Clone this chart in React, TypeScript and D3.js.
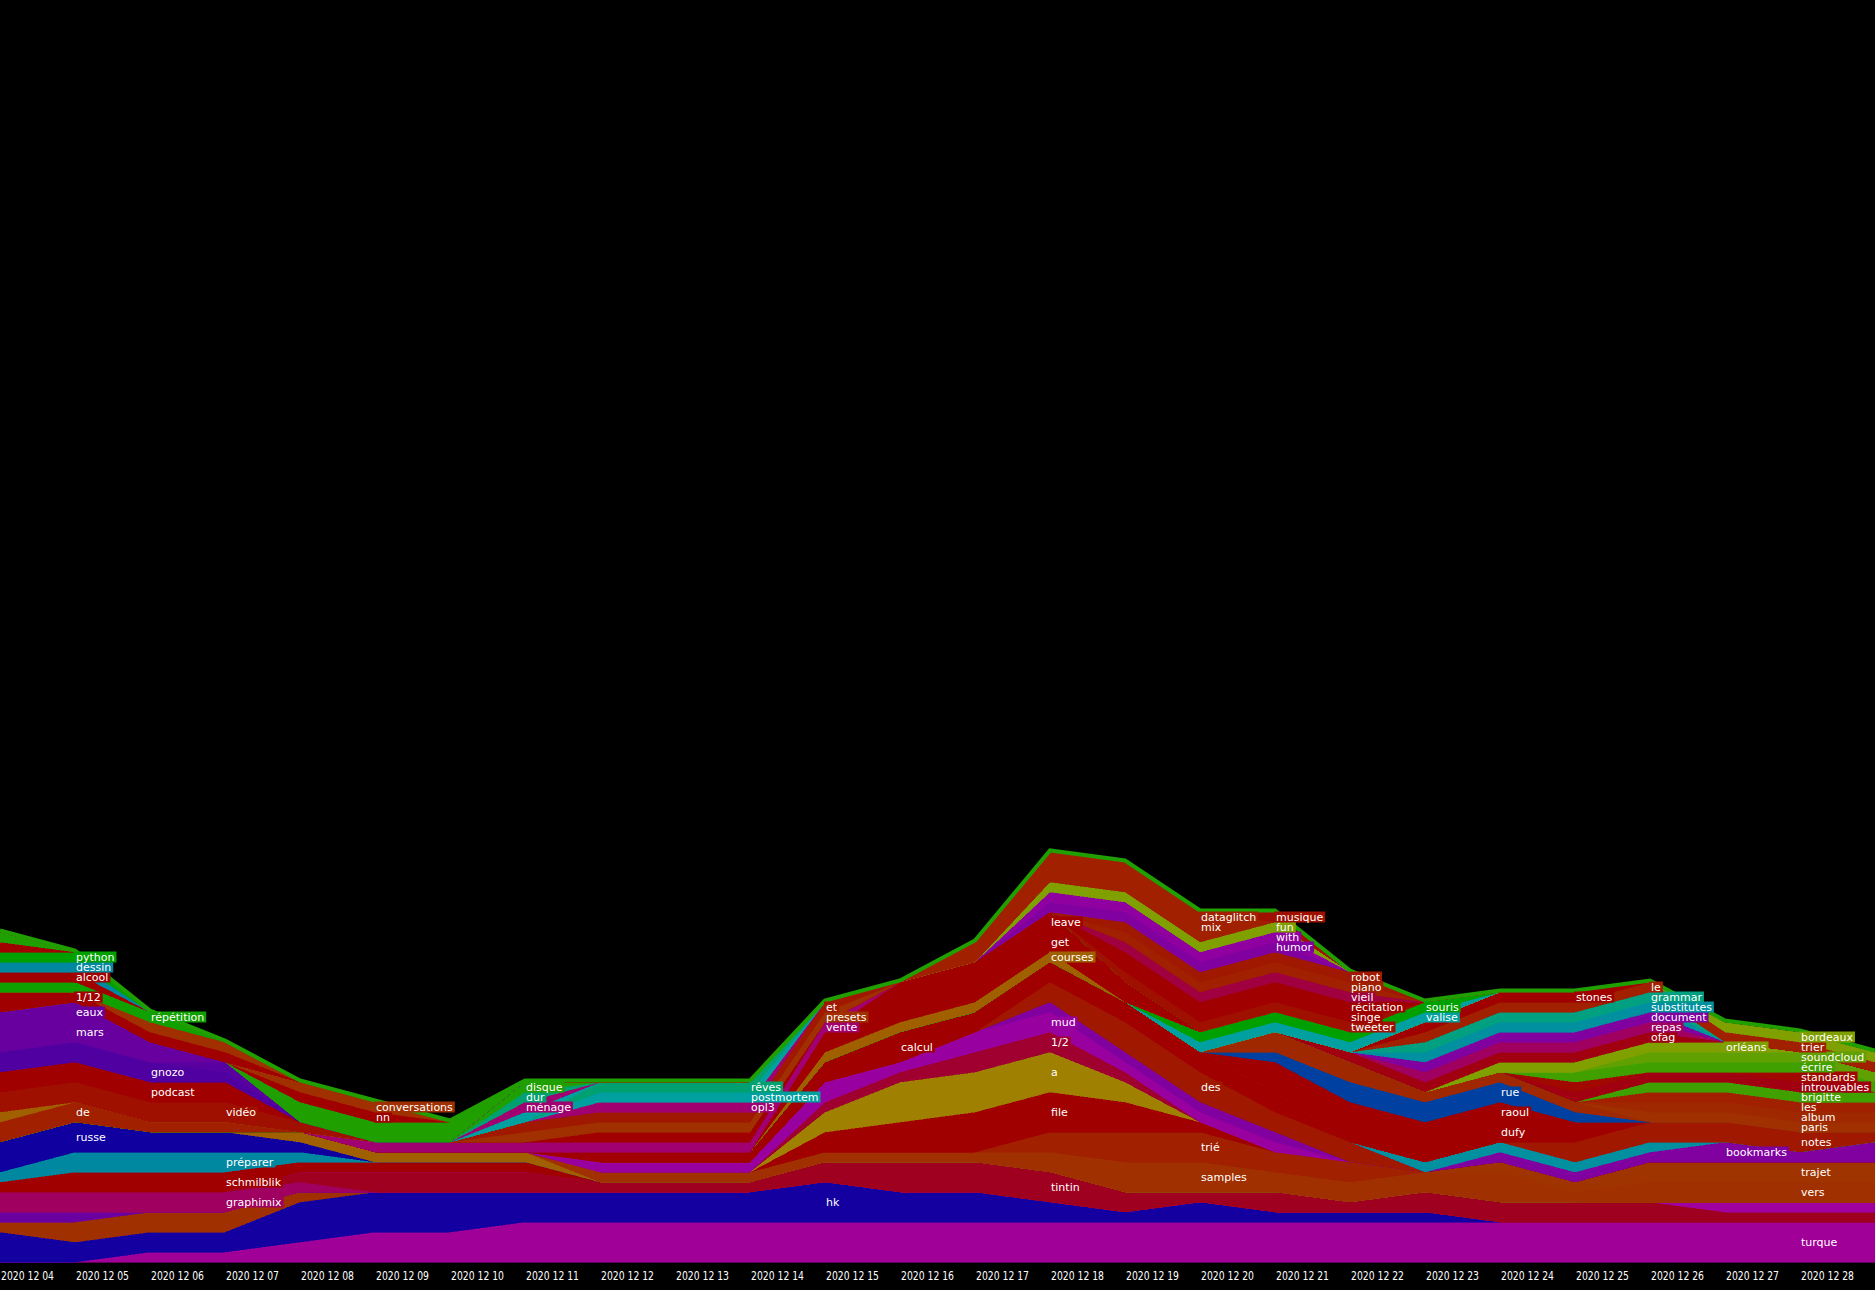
import React from "react";
import * as d3 from "d3";

const dates = [
  "2020 12 04", "2020 12 05", "2020 12 06", "2020 12 07", "2020 12 08", "2020 12 09",
  "2020 12 10", "2020 12 11", "2020 12 12", "2020 12 13", "2020 12 14", "2020 12 15",
  "2020 12 16", "2020 12 17", "2020 12 18", "2020 12 19", "2020 12 20", "2020 12 21",
  "2020 12 22", "2020 12 23", "2020 12 24", "2020 12 25", "2020 12 26", "2020 12 27",
  "2020 12 28", "2020 12 29",
];

// stack order, bottom to top ("" = word whose label is not shown)
const words = [
  "turque", "hk", "", "", "graphimix", "tintin", "", "schmilblik", "préparer", "russe",
  "", "samples", "vers", "trajet", "trié", "file", "a", "1/2", "mud", "",
  "des", "calcul", "bookmarks", "", "notes", "dufy", "raoul", "rue", "", "paris",
  "album", "les", "brigitte", "introuvables", "standards", "écrire", "soundcloud", "orléans", "ofag", "repas",
  "document", "substitutes", "grammar", "le", "stones", "trier", "bordeaux", "valise", "souris", "courses",
  "get", "leave", "vente", "", "presets", "et", "opl3", "postmortem", "rêves", "",
  "ménage", "dur", "disque", "de", "", "vidéo", "podcast", "", "gnozo", "",
  "mars", "eaux", "", "nn", "conversations", "", "1/12", "", "", "répétition",
  "alcool", "dessin", "python", "", "", "tweeter", "singe", "récitation", "vieil", "piano",
  "robot", "humor", "with", "fun", "", "mix", "dataglitch", "musique",
];

const wordColors = [
  "#a00098", "#1400a0", "#a03000", "#6a00a0", "#a00060", "#a00020", "#a000a0", "#a00000", "#0088a0", "#1000a0",
  "#a06000", "#a03000", "#a03000", "#a03400", "#a02000", "#a00000", "#a08000", "#a00030", "#9800a0", "#8000a0",
  "#a01800", "#a00000", "#8000a0", "#0090a0", "#a01800", "#a00000", "#a00000", "#0040a0", "#a02800", "#a03000",
  "#a02800", "#a02000", "#40a000", "#a00010", "#a00800", "#40a000", "#60a000", "#80a000", "#a00010", "#a00060",
  "#8000a0", "#0090a0", "#00a080", "#a02000", "#a00000", "#a02000", "#80a000", "#00a0a0", "#00a000", "#a06000",
  "#a00000", "#a00000", "#a00070", "#a00000", "#a03000", "#a01800", "#a00070", "#00a0a0", "#00a070", "#00a0a0",
  "#a00070", "#00a070", "#20a000", "#a02000", "#a06000", "#a01000", "#a00000", "#a00000", "#5000a0", "#5800a0",
  "#6800a0", "#6800a0", "#20a000", "#a00000", "#a03000", "#a00000", "#a00000", "#a00000", "#a03000", "#10a000",
  "#a00000", "#0088a0", "#00a000", "#a00000", "#20a000", "#a01000", "#a00000", "#a00000", "#a00040", "#a02000",
  "#a01800", "#8000a0", "#9000a0", "#80a000", "#a02000", "#a02000", "#a02000", "#a01000",
];

// daily counts per word (one column per date)
const counts: number[][] = [
  [0,0,1,1,2,3,3,4,4,4,4,4,4,4,4,4,4,4,4,4,4,4,4,4,4,4],
  [3,2,2,2,4,4,4,3,3,3,3,4,3,3,2,1,2,1,1,1,0,0,0,0,0,0],
  [1,2,2,2,1,0,0,0,0,0,0,0,0,0,0,0,0,0,0,0,0,0,0,0,0,0],
  [1,1,0,0,0,0,0,0,0,0,0,0,0,0,0,0,0,0,0,0,0,0,0,0,0,0],
  [2,2,2,2,1,0,0,0,0,0,0,0,0,0,0,0,0,0,0,0,0,0,0,0,0,0],
  [0,0,0,0,1,2,2,2,1,1,1,2,3,3,3,2,1,2,1,2,2,2,2,1,1,1],
  [0,0,0,0,0,0,0,0,0,0,0,0,0,0,0,0,0,0,0,0,0,0,0,1,1,1],
  [1,2,2,2,1,1,1,1,0,0,0,0,0,0,0,0,0,0,0,0,0,0,0,0,0,0],
  [1,2,2,2,1,0,0,0,0,0,0,0,0,0,0,0,0,0,0,0,0,0,0,0,0,0],
  [3,3,2,2,1,0,0,0,0,0,0,0,0,0,0,0,0,0,0,0,0,0,0,0,0,0],
  [0,0,0,0,1,1,1,1,0,0,0,0,0,0,0,0,0,0,0,0,0,0,0,0,0,0],
  [0,0,0,0,0,0,0,0,1,1,1,1,1,1,2,3,3,2,2,2,2,0,0,0,0,0],
  [0,0,0,0,0,0,0,0,0,0,0,0,0,0,0,0,0,0,0,0,1,1,2,2,2,2],
  [0,0,0,0,0,0,0,0,0,0,0,0,0,0,0,0,0,0,0,0,1,1,2,2,2,2],
  [0,0,0,0,0,0,0,0,0,0,0,0,0,0,2,3,3,2,2,0,0,0,0,0,0,0],
  [0,0,0,0,0,0,0,0,0,0,0,2,3,4,4,3,1,0,0,0,0,0,0,0,0,0],
  [0,0,0,0,0,0,0,0,0,0,0,2,4,4,4,2,0,0,0,0,0,0,0,0,0,0],
  [0,0,0,0,0,0,0,0,0,0,0,1,1,2,2,1,0,0,0,0,0,0,0,0,0,0],
  [0,0,0,0,0,0,0,0,1,1,1,2,1,2,2,1,1,1,0,0,0,0,0,0,0,0],
  [0,0,0,0,0,0,0,0,0,0,0,0,0,0,1,1,1,1,0,0,0,0,0,0,0,0],
  [0,0,0,0,0,0,0,0,0,0,0,0,0,0,2,3,3,2,2,0,0,0,0,0,0,0],
  [0,0,0,0,0,0,0,0,1,1,1,2,3,2,2,2,2,2,0,0,0,0,0,0,0,0],
  [0,0,0,0,0,0,0,0,0,0,0,0,0,0,0,0,0,0,0,0,1,1,1,2,1,2],
  [0,0,0,0,0,0,0,0,0,0,0,0,0,0,0,0,0,0,0,1,1,1,1,0,0,0],
  [0,0,0,0,0,0,0,0,0,0,0,0,0,0,0,0,0,0,0,0,0,2,2,2,2,1],
  [0,0,0,0,0,0,0,0,0,0,0,0,0,0,0,0,0,1,2,2,2,1,0,0,0,0],
  [0,0,0,0,0,0,0,0,0,0,0,0,0,0,0,0,0,2,2,2,2,1,0,0,0,0],
  [0,0,0,0,0,0,0,0,0,0,0,0,0,0,0,0,0,1,2,2,2,1,0,0,0,0],
  [0,0,0,0,0,0,0,0,0,0,0,0,0,0,0,0,0,2,2,1,1,1,0,0,0,0],
  [0,0,0,0,0,0,0,0,0,0,0,0,0,0,0,0,0,0,0,0,0,0,1,1,1,1],
  [0,0,0,0,0,0,0,0,0,0,0,0,0,0,0,0,0,0,0,0,0,0,1,1,1,1],
  [0,0,0,0,0,0,0,0,0,0,0,0,0,0,0,0,0,0,0,0,0,0,1,1,1,1],
  [0,0,0,0,0,0,0,0,0,0,0,0,0,0,0,0,0,0,0,0,0,0,1,1,1,1],
  [0,0,0,0,0,0,0,0,0,0,0,0,0,0,0,0,0,0,0,0,0,1,1,1,1,0],
  [0,0,0,0,0,0,0,0,0,0,0,0,0,0,0,0,0,0,0,0,0,1,0,0,1,0],
  [0,0,0,0,0,0,0,0,0,0,0,0,0,0,0,0,0,0,0,0,0,1,1,1,1,1],
  [0,0,0,0,0,0,0,0,0,0,0,0,0,0,0,0,0,0,0,0,0,0,1,1,1,1],
  [0,0,0,0,0,0,0,0,0,0,0,0,0,0,0,0,0,0,0,0,1,1,1,1,0,0],
  [0,0,0,0,0,0,0,0,0,0,0,0,0,0,0,0,0,0,1,1,1,1,1,0,0,0],
  [0,0,0,0,0,0,0,0,0,0,0,0,0,0,0,0,0,0,0,1,1,1,1,0,0,0],
  [0,0,0,0,0,0,0,0,0,0,0,0,0,0,0,0,0,0,0,1,1,1,1,0,0,0],
  [0,0,0,0,0,0,0,0,0,0,0,0,0,0,0,0,0,0,0,1,1,1,1,0,0,0],
  [0,0,0,0,0,0,0,0,0,0,0,0,0,0,0,0,0,0,0,1,1,1,1,0,0,0],
  [0,0,0,0,0,0,0,0,0,0,0,0,0,0,0,0,0,0,0,1,1,1,1,0,0,0],
  [0,0,0,0,0,0,0,0,0,0,0,0,0,0,0,0,0,0,0,1,1,1,0,0,0,0],
  [0,0,0,0,0,0,0,0,0,0,0,0,0,0,0,0,0,0,0,0,0,0,0,1,1,1],
  [0,0,0,0,0,0,0,0,0,0,0,0,0,0,0,0,0,0,0,0,0,0,0,1,1,1],
  [0,0,0,0,0,0,0,0,0,0,0,0,0,0,0,0,1,1,1,1,0,0,0,0,0,0],
  [0,0,0,0,0,0,0,0,0,0,0,0,0,0,0,0,1,1,1,1,0,0,0,0,0,0],
  [0,0,0,0,0,0,0,0,0,0,0,1,1,1,1,0,0,0,0,0,0,0,0,0,0,0],
  [0,0,0,0,0,0,0,0,0,0,0,1,2,2,2,1,0,0,0,0,0,0,0,0,0,0],
  [0,0,0,0,0,0,0,0,0,0,0,1,2,2,2,1,0,0,0,0,0,0,0,0,0,0],
  [0,0,0,0,0,1,1,1,1,1,1,1,0,0,0,0,0,0,0,0,0,0,0,0,0,0],
  [0,0,0,0,0,0,0,0,1,1,1,0,0,0,0,0,0,0,0,0,0,0,0,0,0,0],
  [0,0,0,0,0,0,0,1,1,1,1,1,0,0,0,0,0,0,0,0,0,0,0,0,0,0],
  [0,0,0,0,0,0,0,1,1,1,1,1,0,0,0,0,0,0,0,0,0,0,0,0,0,0],
  [0,0,0,0,0,0,0,0,1,1,1,0,0,0,0,0,0,0,0,0,0,0,0,0,0,0],
  [0,0,0,0,0,0,0,0,1,1,1,0,0,0,0,0,0,0,0,0,0,0,0,0,0,0],
  [0,0,0,0,0,0,0,0,1,1,1,0,0,0,0,0,0,0,0,0,0,0,0,0,0,0],
  [0,0,0,0,0,0,0,1,0,0,0,0,0,0,0,0,0,0,0,0,0,0,0,0,0,0],
  [0,0,0,0,0,0,0,1,0,0,0,0,0,0,0,0,0,0,0,0,0,0,0,0,0,0],
  [0,0,0,0,0,0,0,1,0,0,0,0,0,0,0,0,0,0,0,0,0,0,0,0,0,0],
  [0,0,0,0,0,0,0,1,0,0,0,0,0,0,0,0,0,0,0,0,0,0,0,0,0,0],
  [2,2,1,1,0,0,0,0,0,0,0,0,0,0,0,0,0,0,0,0,0,0,0,0,0,0],
  [1,0,0,0,0,0,0,0,0,0,0,0,0,0,0,0,0,0,0,0,0,0,0,0,0,0],
  [2,2,2,2,1,0,0,0,0,0,0,0,0,0,0,0,0,0,0,0,0,0,0,0,0,0],
  [2,2,2,1,0,0,0,0,0,0,0,0,0,0,0,0,0,0,0,0,0,0,0,0,0,0],
  [0,0,0,1,0,0,0,0,0,0,0,0,0,0,0,0,0,0,0,0,0,0,0,0,0,0],
  [2,2,2,1,0,0,0,0,0,0,0,0,0,0,0,0,0,0,0,0,0,0,0,0,0,0],
  [0,0,0,1,0,0,0,0,0,0,0,0,0,0,0,0,0,0,0,0,0,0,0,0,0,0],
  [2,2,1,0,0,0,0,0,0,0,0,0,0,0,0,0,0,0,0,0,0,0,0,0,0,0],
  [2,2,1,0,0,0,0,0,0,0,0,0,0,0,0,0,0,0,0,0,0,0,0,0,0,0],
  [0,0,0,0,2,2,2,0,0,0,0,0,0,0,0,0,0,0,0,0,0,0,0,0,0,0],
  [0,0,0,0,1,1,0,0,0,0,0,0,0,0,0,0,0,0,0,0,0,0,0,0,0,0],
  [0,0,0,0,1,1,0,0,0,0,0,0,0,0,0,0,0,0,0,0,0,0,0,0,0,0],
  [1,0,0,0,0,0,0,0,0,0,0,0,0,0,0,0,0,0,0,0,0,0,0,0,0,0],
  [1,1,0,0,0,0,0,0,0,0,0,0,0,0,0,0,0,0,0,0,0,0,0,0,0,0],
  [0,0,1,1,0,0,0,0,0,0,0,0,0,0,0,0,0,0,0,0,0,0,0,0,0,0],
  [0,0,1,1,0,0,0,0,0,0,0,0,0,0,0,0,0,0,0,0,0,0,0,0,0,0],
  [1,1,1,0,0,0,0,0,0,0,0,0,0,0,0,0,0,0,0,0,0,0,0,0,0,0],
  [1,1,0,0,0,0,0,0,0,0,0,0,0,0,0,0,0,0,0,0,0,0,0,0,0,0],
  [1,1,0,0,0,0,0,0,0,0,0,0,0,0,0,0,0,0,0,0,0,0,0,0,0,0],
  [1,1,0,0,0,0,0,0,0,0,0,0,0,0,0,0,0,0,0,0,0,0,0,0,0,0],
  [1,0,0,0,0,0,0,0,0,0,0,0,0,0,0,0,0,0,0,0,0,0,0,0,0,0],
  [1,0,0,0,0,0,0,0,0,0,0,0,0,0,0,0,0,0,0,0,0,0,0,0,0,0],
  [0,0,0,0,0,0,0,0,0,0,0,0,0,0,0,1,1,1,1,0,0,0,0,0,0,0],
  [0,0,0,0,0,0,0,0,0,0,0,0,0,0,0,1,1,1,1,0,0,0,0,0,0,0],
  [0,0,0,0,0,0,0,0,0,0,0,0,0,0,0,1,1,1,1,0,0,0,0,0,0,0],
  [0,0,0,0,0,0,0,0,0,0,0,0,0,0,0,1,1,1,1,0,0,0,0,0,0,0],
  [0,0,0,0,0,0,0,0,0,0,0,0,0,0,0,1,1,1,1,0,0,0,0,0,0,0],
  [0,0,0,0,0,0,0,0,0,0,0,0,0,0,0,1,1,1,1,0,0,0,0,0,0,0],
  [0,0,0,0,0,0,0,0,0,0,0,0,0,0,1,1,1,1,0,0,0,0,0,0,0,0],
  [0,0,0,0,0,0,0,0,0,0,0,0,0,0,1,1,1,1,0,0,0,0,0,0,0,0],
  [0,0,0,0,0,0,0,0,0,0,0,0,0,0,1,1,1,1,0,0,0,0,0,0,0,0],
  [0,0,0,0,0,0,0,0,0,0,0,0,0,1,1,1,1,0,0,0,0,0,0,0,0,0],
  [0,0,0,0,0,0,0,0,0,0,0,0,0,1,1,1,1,0,0,0,0,0,0,0,0,0],
  [0,0,0,0,0,0,0,0,0,0,0,0,0,0,1,1,1,0,0,0,0,0,0,0,0,0],
  [0,0,0,0,0,0,0,0,0,0,0,0,0,0,0,0,0,1,0,0,0,0,0,0,0,0],
];

const WIDTH = 1875;
const HEIGHT = 1290;
const BASE_Y = 1262;
const UNIT_PX = 10;
const LABEL_FONT = '11px "DejaVu Sans"';

function measure(text: string): number {
  const c = document.createElement("canvas").getContext("2d");
  if (!c) return text.length * 6.4;
  c.font = LABEL_FONT;
  return c.measureText(text).width;
}

export default function App() {
  const x = d3.scaleLinear().domain([0, dates.length - 1]).range([0, WIDTH]);
  const y = d3.scaleLinear().domain([0, 1]).range([BASE_Y, BASE_Y - UNIT_PX]);

  const keys = words.map((_, k) => String(k));
  const table = dates.map((_, i) => {
    const row: Record<string, number> = {};
    keys.forEach((key, k) => (row[key] = counts[k][i]));
    return row;
  });
  const series = d3.stack<Record<string, number>>().keys(keys).order(d3.stackOrderNone).offset(d3.stackOffsetNone)(table as any);

  const area = d3
    .area<any>()
    .x((_, i) => x(i))
    .y0((d) => y(d[0]))
    .y1((d) => y(d[1]));

  const topLine = d3
    .line<any>()
    .x((_, i) => x(i))
    .y((d) => y(d[1]) - 1.5);

  // the last date sits on the right edge of the canvas: no tick text, no word labels there
  const visibleDays = dates.length - 1;
  const labels = words
    .map((name, k) => {
      if (!name) return null;
      const vals = counts[k].slice(0, visibleDays);
      const m = Math.max(...vals);
      if (m <= 0) return null;
      const idx = vals.lastIndexOf(m);
      const s = series[k][idx];
      return {
        name,
        color: wordColors[k],
        cx: x(idx),
        cy: y((s[0] + s[1]) / 2),
        w: measure(name),
      };
    })
    .filter(Boolean) as { name: string; color: string; cx: number; cy: number; w: number }[];

  return (
    <svg
      width={WIDTH}
      height={HEIGHT}
      style={{ position: "absolute", left: 0, top: 0, display: "block" }}
      xmlns="http://www.w3.org/2000/svg"
    >
      <rect x={0} y={0} width={WIDTH} height={HEIGHT} fill="#000" />
      <g shapeRendering="crispEdges">
        {series.map((s, k) => (
          <path key={k} d={area(s as any) || ""} fill={wordColors[k]} stroke={wordColors[k]} strokeWidth={0.6} />
        ))}
      </g>
      <path d={topLine(series[series.length - 1] as any) || ""} fill="none" stroke="#20a000" strokeWidth={4} />
      <g>
        {labels.map((l, i) => (
          <g key={i}>
            <rect x={l.cx - 1} y={l.cy - 5.5} width={l.w + 4} height={11} fill={l.color} />
            <text x={l.cx + 1} y={l.cy + 4} fill="#fff" style={{ font: LABEL_FONT }}>
              {l.name}
            </text>
          </g>
        ))}
      </g>
      <g>
        {dates.slice(0, visibleDays).map((d, i) => (
          <text
            key={d}
            x={x(i) + 1}
            y={1280}
            fill="#fff"
            fontFamily='"DejaVu Sans Condensed", "DejaVu Sans", sans-serif'
            fontSize={12}
            textLength={53}
            lengthAdjust="spacingAndGlyphs"
          >
            {d}
          </text>
        ))}
      </g>
    </svg>
  );
}
